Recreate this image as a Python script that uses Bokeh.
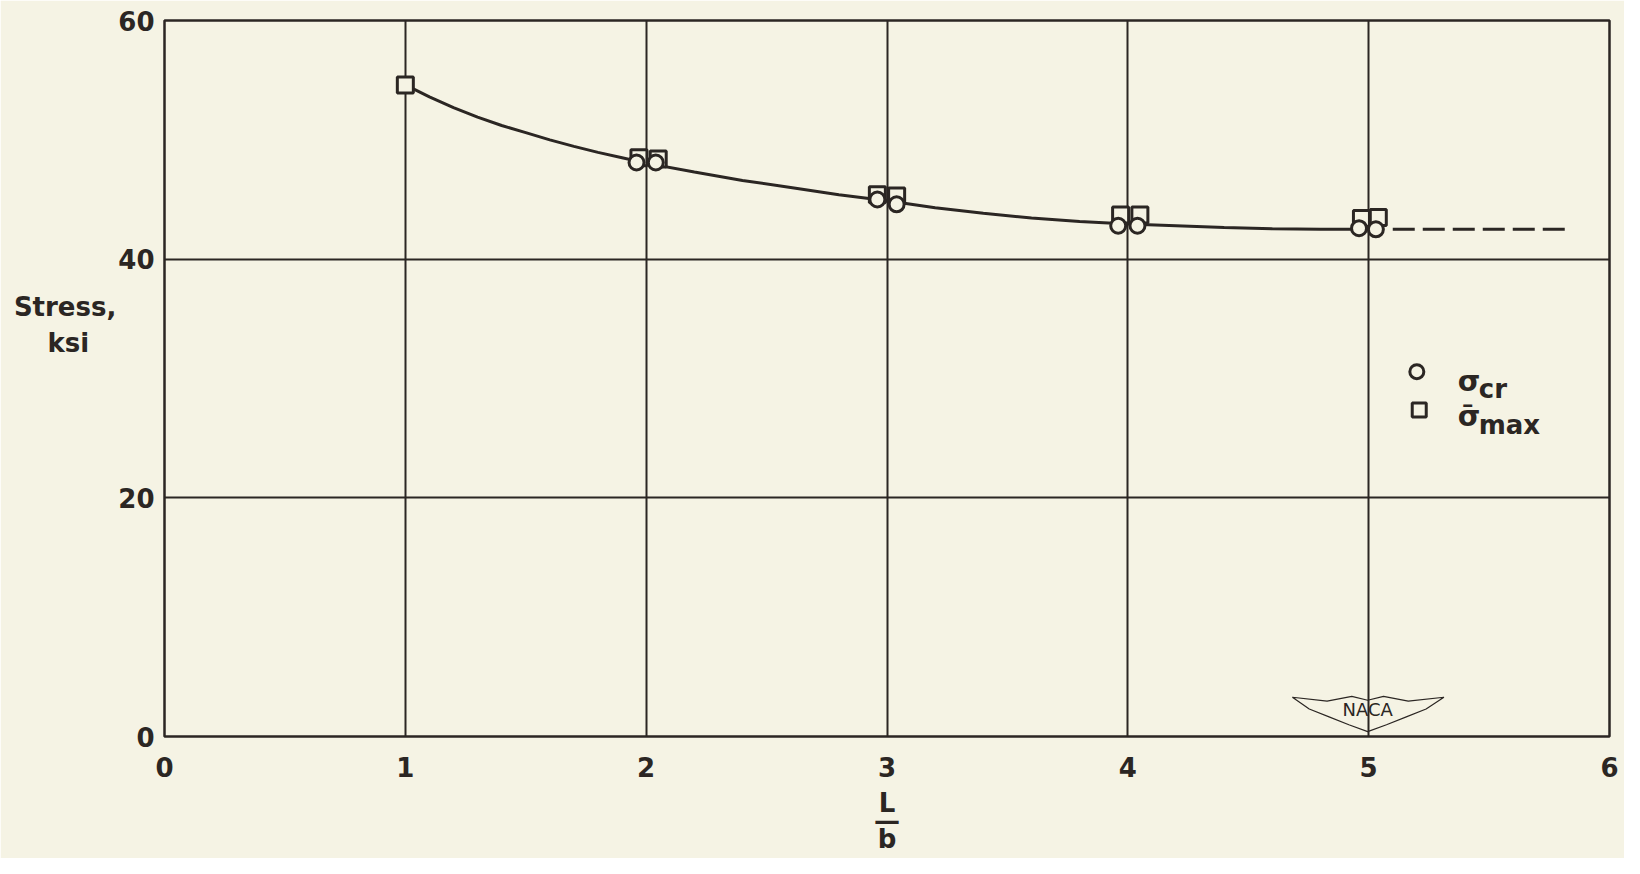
from bokeh.plotting import figure
from bokeh.models import Range1d, Label, FixedTicker
from bokeh.embed import file_html
from bokeh.resources import INLINE

# ---- data ----
lb_cr = [1.96, 2.04, 2.96, 3.04, 3.96, 4.04, 4.96, 5.03]
sigma_cr = [48.1, 48.1, 45.0, 44.6, 42.8, 42.8, 42.6, 42.5]

lb_max = [1.0, 1.97, 2.05, 2.96, 3.04, 3.97, 4.05, 4.97, 5.04]
sigma_max = [54.6, 48.5, 48.4, 45.4, 45.3, 43.7, 43.7, 43.4, 43.5]

curve_x = [1.0, 1.1, 1.2, 1.3, 1.4, 1.5, 1.6, 1.7, 1.8, 1.9, 2.0, 2.2, 2.4, 2.6,
           2.8, 3.0, 3.2, 3.4, 3.6, 3.8, 4.0, 4.2, 4.4, 4.6, 4.8, 5.0]
curve_y = [54.6, 53.6, 52.7, 51.9, 51.2, 50.6, 50.0, 49.45, 48.95, 48.5, 48.05,
           47.3, 46.6, 46.0, 45.4, 44.9, 44.3, 43.85, 43.45, 43.15, 42.95, 42.8,
           42.65, 42.55, 42.5, 42.5]

extrap_x = [5.1, 5.82]
extrap_y = [42.5, 42.5]

x_ticks = [0, 1, 2, 3, 4, 5, 6]
y_ticks = [0, 20, 40, 60]

# ---- style ----
BG = "#f5f3e4"
INK = "#2b2623"
FONT = "DejaVu Sans"

p = figure(width=1624, height=858, output_backend="svg", toolbar_location=None,
           x_range=Range1d(0, 6), y_range=Range1d(0, 60),
           min_border_left=164, min_border_right=15, min_border_top=20,
           min_border_bottom=122)
p.background_fill_color = BG
p.border_fill_color = BG
p.outline_line_color = INK
p.outline_line_width = 2.5

for ax in (p.xaxis[0], p.yaxis[0]):
    ax.axis_line_color = None
    ax.major_tick_line_color = None
    ax.minor_tick_line_color = None
    ax.major_label_text_font = FONT
    ax.major_label_text_font_style = "bold"
    ax.major_label_text_font_size = "26px"
    ax.major_label_text_color = INK
    ax.axis_label_text_font = FONT
    ax.axis_label_text_font_style = "bold"
    ax.axis_label_text_font_size = "26px"
    ax.axis_label_text_color = INK
p.xaxis.ticker = FixedTicker(ticks=x_ticks)
p.yaxis.ticker = FixedTicker(ticks=y_ticks)
p.xaxis.major_label_standoff = 14
p.yaxis.major_label_standoff = 4

p.yaxis.axis_label = "Stress,\nksi\u00a0\u00a0\u00a0\n\u00a0\n\u00a0\n\u00a0"
p.yaxis.axis_label_orientation = "horizontal"
p.yaxis.axis_label_text_line_height = 1.2
p.yaxis.axis_label_standoff = -1

p.xaxis.axis_label = "L\n\u2014\nb"
p.xaxis.axis_label_text_line_height = 0.6
p.xaxis.axis_label_standoff = 8

p.xgrid.ticker = FixedTicker(ticks=x_ticks)
p.ygrid.ticker = FixedTicker(ticks=y_ticks)
for g in (p.xgrid[0], p.ygrid[0]):
    g.grid_line_color = INK
    g.grid_line_width = 2
    g.grid_line_alpha = 1.0

# curve
p.line(curve_x, curve_y, line_color=INK, line_width=3)
p.line(extrap_x, extrap_y, line_color=INK, line_width=3, line_dash="22 8")

# markers
p.scatter(lb_max, sigma_max, marker="square", size=16, fill_color=BG,
          line_color=INK, line_width=3)
p.scatter(lb_cr, sigma_cr, marker="circle", size=15, fill_color=BG,
          line_color=INK, line_width=3)

# legend keys
p.scatter([5.20], [30.57], marker="circle", size=14, fill_color=BG,
          line_color=INK, line_width=3)
p.scatter([5.21], [27.36], marker="square", size=14, fill_color=BG,
          line_color=INK, line_width=3)

def lab(x, y, t, size="26px", align="left", baseline="alphabetic", style="bold"):
    p.add_layout(Label(x=x, y=y, text=t, text_font=FONT,
                       text_font_size=size, text_font_style=style,
                       text_color=INK, text_align=align, text_baseline=baseline))

lab(5.37, 29.83, "σ", size="29px")
lab(5.457, 29.1, "cr", size="26px")
lab(5.37, 26.87, "σ̄", size="29px")
lab(5.457, 26.1, "max", size="26px")

# NACA mark
lab(4.996, 2.3, "NACA", size="18px", align="center", baseline="middle", style="normal")
wing_px = [(1305, 710), (1340, 714), (1365, 709), (1381, 713), (1397, 709),
           (1422, 714), (1458, 710), (1440, 722), (1420, 730), (1400, 738),
           (1381, 745), (1362, 738), (1342, 730), (1322, 722)]
wx = [(a - 166) / 243.2 for a, _ in wing_px]
wy = [(750 - b) / 12.17 for _, b in wing_px]
p.patch(wx, wy, fill_color=None, line_color=INK, line_width=1.2)

open("out.html", "w").write(file_html(p, INLINE))
